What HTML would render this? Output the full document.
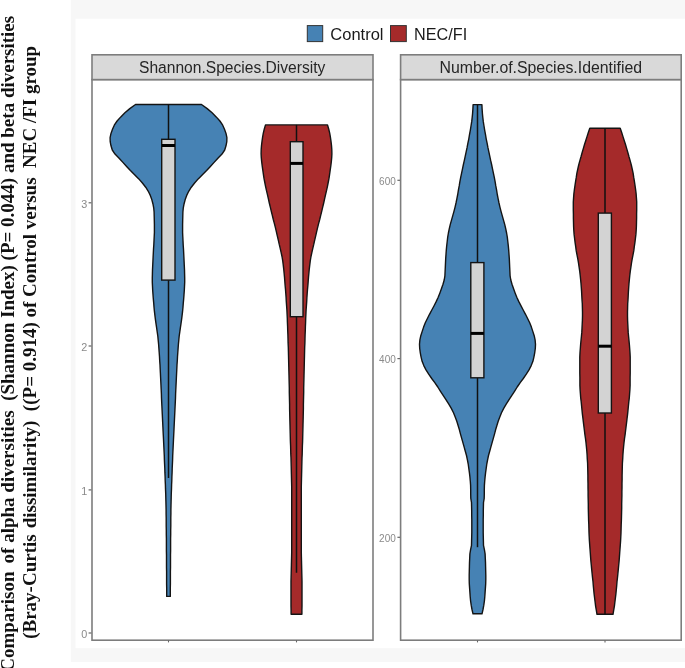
<!DOCTYPE html>
<html><head><meta charset="utf-8"><title>Violin plot</title>
<style>
html,body{margin:0;padding:0;background:#fff;}
body{width:685px;height:668px;position:relative;overflow:hidden;}
</style></head><body>
<svg width="685" height="668" viewBox="0 0 685 668" style="position:absolute;left:0;top:0;filter:blur(0.55px)">
<rect x="70.8" y="0" width="615" height="662" fill="#f7f7f7"/>
<rect x="75.5" y="18.7" width="610" height="629.5" fill="#ffffff"/>
<rect x="92" y="79.6" width="281" height="560.6" fill="#fff" stroke="#7d7d7d" stroke-width="1.6"/>
<rect x="92" y="54.8" width="281" height="24.799999999999997" fill="#d9d9d9" stroke="#7d7d7d" stroke-width="1.6"/>
<rect x="400.6" y="79.6" width="280.6" height="560.6" fill="#fff" stroke="#7d7d7d" stroke-width="1.6"/>
<rect x="400.6" y="54.8" width="280.6" height="24.799999999999997" fill="#d9d9d9" stroke="#7d7d7d" stroke-width="1.6"/>
<path d="M135.5,104.5 L129.8,108.6 L124.9,112.8 L120.8,116.9 L117.1,121.0 L114.3,125.2 L112.5,129.3 L111.0,133.4 L110.1,137.6 L110.2,141.7 L111.0,145.8 L112.3,150.0 L115.0,154.1 L119.1,158.2 L122.9,162.4 L126.6,166.5 L130.4,170.6 L134.6,174.8 L138.8,178.9 L142.4,183.0 L145.7,187.2 L148.3,191.3 L150.3,195.4 L151.8,199.6 L152.9,203.7 L153.7,207.8 L154.1,212.0 L154.2,216.1 L154.3,220.2 L154.4,224.4 L154.4,228.5 L154.4,232.6 L154.2,236.8 L154.0,240.9 L153.8,245.0 L153.5,249.2 L153.3,253.3 L153.1,257.4 L152.9,261.6 L152.7,265.7 L152.5,269.8 L152.4,274.0 L152.3,278.1 L152.3,282.2 L152.5,286.4 L152.7,290.5 L153.0,294.6 L153.3,298.8 L153.7,302.9 L154.0,307.0 L154.4,311.2 L154.9,315.3 L155.4,319.4 L156.0,323.6 L156.6,327.7 L157.2,331.8 L157.8,336.0 L158.2,340.1 L158.6,344.2 L158.9,348.4 L159.2,352.5 L159.5,356.7 L159.7,360.8 L160.0,364.9 L160.2,369.1 L160.4,373.2 L160.6,377.3 L160.8,381.5 L161.0,385.6 L161.2,389.7 L161.4,393.9 L161.5,398.0 L161.7,402.1 L161.9,406.3 L162.1,410.4 L162.3,414.5 L162.5,418.7 L162.7,422.8 L162.9,426.9 L163.1,431.1 L163.3,435.2 L163.5,439.3 L163.7,443.5 L163.9,447.6 L164.1,451.7 L164.3,455.9 L164.4,460.0 L164.6,464.1 L164.8,468.3 L164.9,472.4 L165.1,476.5 L165.2,480.7 L165.4,484.8 L165.5,488.9 L165.7,493.1 L165.8,497.2 L165.9,501.3 L166.0,505.5 L166.1,509.6 L166.1,513.7 L166.2,517.9 L166.2,522.0 L166.2,526.1 L166.3,530.3 L166.3,534.4 L166.4,538.5 L166.4,542.7 L166.4,546.8 L166.4,550.9 L166.5,555.1 L166.5,559.2 L166.5,563.3 L166.5,567.5 L166.6,571.6 L166.6,575.7 L166.6,579.9 L166.6,584.0 L166.7,588.1 L166.7,592.3 L166.7,596.4 L170.3,596.4 L170.3,592.3 L170.3,588.1 L170.4,584.0 L170.4,579.9 L170.4,575.7 L170.4,571.6 L170.5,567.5 L170.5,563.3 L170.5,559.2 L170.5,555.1 L170.6,550.9 L170.6,546.8 L170.6,542.7 L170.6,538.5 L170.7,534.4 L170.7,530.3 L170.8,526.1 L170.8,522.0 L170.8,517.9 L170.9,513.7 L170.9,509.6 L171.0,505.5 L171.1,501.3 L171.2,497.2 L171.3,493.1 L171.5,488.9 L171.6,484.8 L171.8,480.7 L171.9,476.5 L172.1,472.4 L172.2,468.3 L172.4,464.1 L172.6,460.0 L172.7,455.9 L172.9,451.7 L173.1,447.6 L173.3,443.5 L173.5,439.3 L173.7,435.2 L173.9,431.1 L174.1,426.9 L174.3,422.8 L174.5,418.7 L174.7,414.5 L174.9,410.4 L175.1,406.3 L175.3,402.1 L175.5,398.0 L175.6,393.9 L175.8,389.7 L176.0,385.6 L176.2,381.5 L176.4,377.3 L176.6,373.2 L176.8,369.1 L177.0,364.9 L177.3,360.8 L177.5,356.7 L177.8,352.5 L178.1,348.4 L178.4,344.2 L178.8,340.1 L179.2,336.0 L179.8,331.8 L180.4,327.7 L181.0,323.6 L181.6,319.4 L182.1,315.3 L182.6,311.2 L183.0,307.0 L183.3,302.9 L183.7,298.8 L184.0,294.6 L184.3,290.5 L184.5,286.4 L184.7,282.2 L184.7,278.1 L184.6,274.0 L184.5,269.8 L184.3,265.7 L184.1,261.6 L183.9,257.4 L183.7,253.3 L183.5,249.2 L183.2,245.0 L183.0,240.9 L182.8,236.8 L182.6,232.6 L182.6,228.5 L182.6,224.4 L182.7,220.2 L182.8,216.1 L182.9,212.0 L183.3,207.8 L184.1,203.7 L185.2,199.6 L186.7,195.4 L188.7,191.3 L191.3,187.2 L194.6,183.0 L198.2,178.9 L202.4,174.8 L206.6,170.6 L210.4,166.5 L214.1,162.4 L217.9,158.2 L222.0,154.1 L224.7,150.0 L226.0,145.8 L226.8,141.7 L226.9,137.6 L226.0,133.4 L224.5,129.3 L222.7,125.2 L219.9,121.0 L216.2,116.9 L212.1,112.8 L207.2,108.6 L201.5,104.5Z" fill="#4682b4" stroke="#141414" stroke-width="1.4" stroke-linejoin="round"/>
<line x1="168.5" y1="104.5" x2="168.5" y2="139.3" stroke="#111" stroke-width="1.5"/>
<line x1="168.5" y1="280.1" x2="168.5" y2="478" stroke="#111" stroke-width="1.5"/>
<rect x="161.7" y="139.3" width="13.300000000000011" height="140.8" fill="#d3d3d3" stroke="#141414" stroke-width="1.4"/>
<line x1="161.7" y1="145.5" x2="175.0" y2="145.5" stroke="#000" stroke-width="3"/>
<line x1="168.5" y1="640.4" x2="168.5" y2="642.4" stroke="#666" stroke-width="1.1"/>
<path d="M265.5,124.9 L264.3,129.0 L263.3,133.1 L262.6,137.2 L262.0,141.4 L261.5,145.5 L261.2,149.6 L261.1,153.7 L261.3,157.8 L261.7,161.9 L262.2,166.0 L262.8,170.1 L263.4,174.3 L264.0,178.4 L264.8,182.5 L265.6,186.6 L266.5,190.7 L267.5,194.8 L268.4,198.9 L269.3,203.0 L270.3,207.2 L271.3,211.3 L272.3,215.4 L273.3,219.5 L274.4,223.6 L275.4,227.7 L276.4,231.8 L277.3,235.9 L278.3,240.1 L279.2,244.2 L280.2,248.3 L281.1,252.4 L282.0,256.5 L282.7,260.6 L283.2,264.7 L283.7,268.8 L284.1,273.0 L284.5,277.1 L284.8,281.2 L285.1,285.3 L285.5,289.4 L285.8,293.5 L286.1,297.6 L286.3,301.7 L286.6,305.9 L286.9,310.0 L287.1,314.1 L287.3,318.2 L287.4,322.3 L287.6,326.4 L287.7,330.5 L287.9,334.6 L288.0,338.8 L288.1,342.9 L288.3,347.0 L288.4,351.1 L288.5,355.2 L288.6,359.3 L288.7,363.4 L288.8,367.5 L288.9,371.7 L289.0,375.8 L289.1,379.9 L289.2,384.0 L289.3,388.1 L289.3,392.2 L289.4,396.3 L289.5,400.4 L289.6,404.6 L289.6,408.7 L289.7,412.8 L289.8,416.9 L289.9,421.0 L290.0,425.1 L290.1,429.2 L290.2,433.3 L290.3,437.5 L290.4,441.6 L290.6,445.7 L290.7,449.8 L290.8,453.9 L291.0,458.0 L291.1,462.1 L291.2,466.2 L291.3,470.4 L291.4,474.5 L291.5,478.6 L291.6,482.7 L291.7,486.8 L291.7,490.9 L291.7,495.0 L291.7,499.1 L291.7,503.3 L291.7,507.4 L291.7,511.5 L291.7,515.6 L291.7,519.7 L291.7,523.8 L291.7,527.9 L291.7,532.0 L291.7,536.2 L291.7,540.3 L291.7,544.4 L291.7,548.5 L291.7,552.6 L291.6,556.7 L291.5,560.8 L291.4,564.9 L291.3,569.1 L291.2,573.2 L291.1,577.3 L291.0,581.4 L291.0,585.5 L291.0,589.6 L291.0,593.7 L291.0,597.8 L291.0,602.0 L291.0,606.1 L291.1,610.2 L291.1,614.3 L301.9,614.3 L301.9,610.2 L302.0,606.1 L302.0,602.0 L302.0,597.8 L302.0,593.7 L302.0,589.6 L302.0,585.5 L302.0,581.4 L301.9,577.3 L301.8,573.2 L301.7,569.1 L301.6,564.9 L301.5,560.8 L301.4,556.7 L301.3,552.6 L301.3,548.5 L301.3,544.4 L301.3,540.3 L301.3,536.2 L301.3,532.0 L301.3,527.9 L301.3,523.8 L301.3,519.7 L301.3,515.6 L301.3,511.5 L301.3,507.4 L301.3,503.3 L301.3,499.1 L301.3,495.0 L301.3,490.9 L301.3,486.8 L301.4,482.7 L301.5,478.6 L301.6,474.5 L301.7,470.4 L301.8,466.2 L301.9,462.1 L302.0,458.0 L302.2,453.9 L302.3,449.8 L302.4,445.7 L302.6,441.6 L302.7,437.5 L302.8,433.3 L302.9,429.2 L303.0,425.1 L303.1,421.0 L303.2,416.9 L303.3,412.8 L303.4,408.7 L303.4,404.6 L303.5,400.4 L303.6,396.3 L303.7,392.2 L303.7,388.1 L303.8,384.0 L303.9,379.9 L304.0,375.8 L304.1,371.7 L304.2,367.5 L304.3,363.4 L304.4,359.3 L304.5,355.2 L304.6,351.1 L304.7,347.0 L304.9,342.9 L305.0,338.8 L305.1,334.6 L305.3,330.5 L305.4,326.4 L305.6,322.3 L305.7,318.2 L305.9,314.1 L306.1,310.0 L306.4,305.9 L306.7,301.7 L306.9,297.6 L307.2,293.5 L307.5,289.4 L307.9,285.3 L308.2,281.2 L308.5,277.1 L308.9,273.0 L309.3,268.8 L309.8,264.7 L310.3,260.6 L311.0,256.5 L311.9,252.4 L312.8,248.3 L313.8,244.2 L314.7,240.1 L315.7,235.9 L316.6,231.8 L317.6,227.7 L318.6,223.6 L319.7,219.5 L320.7,215.4 L321.7,211.3 L322.7,207.2 L323.7,203.0 L324.6,198.9 L325.5,194.8 L326.5,190.7 L327.4,186.6 L328.2,182.5 L329.0,178.4 L329.6,174.3 L330.2,170.1 L330.8,166.0 L331.3,161.9 L331.7,157.8 L331.9,153.7 L331.8,149.6 L331.5,145.5 L331.0,141.4 L330.4,137.2 L329.7,133.1 L328.7,129.0 L327.5,124.9Z" fill="#a52a2a" stroke="#141414" stroke-width="1.4" stroke-linejoin="round"/>
<line x1="296.5" y1="124.9" x2="296.5" y2="141.7" stroke="#111" stroke-width="1.5"/>
<line x1="296.5" y1="316.7" x2="296.5" y2="572.8" stroke="#111" stroke-width="1.5"/>
<rect x="290.3" y="141.7" width="12.699999999999989" height="175.0" fill="#d3d3d3" stroke="#141414" stroke-width="1.4"/>
<line x1="290.3" y1="163.4" x2="303" y2="163.4" stroke="#000" stroke-width="3"/>
<line x1="296.5" y1="640.4" x2="296.5" y2="642.4" stroke="#666" stroke-width="1.1"/>
<path d="M473.1,104.6 L472.9,108.9 L472.6,113.2 L472.2,117.4 L471.7,121.7 L471.0,126.0 L470.3,130.3 L469.5,134.6 L468.8,138.8 L467.9,143.1 L467.1,147.4 L466.2,151.7 L465.3,155.9 L464.4,160.2 L463.4,164.5 L462.5,168.8 L461.6,173.1 L460.7,177.3 L459.9,181.6 L459.2,185.9 L458.4,190.2 L457.7,194.5 L456.9,198.7 L456.0,203.0 L455.0,207.3 L453.9,211.6 L452.7,215.9 L451.5,220.1 L450.3,224.4 L449.3,228.7 L448.4,233.0 L447.7,237.2 L447.2,241.5 L446.7,245.8 L446.3,250.1 L446.0,254.4 L445.7,258.6 L445.5,262.9 L445.3,267.2 L445.1,271.5 L444.9,275.8 L444.2,280.0 L443.0,284.3 L441.5,288.6 L439.9,292.9 L438.2,297.2 L436.3,301.4 L434.1,305.7 L431.8,310.0 L429.5,314.3 L427.4,318.5 L425.3,322.8 L423.6,327.1 L422.2,331.4 L420.8,335.7 L419.9,339.9 L419.5,344.2 L419.7,348.5 L420.3,352.8 L421.1,357.1 L422.1,361.3 L423.8,365.6 L426.0,369.9 L428.7,374.2 L431.7,378.5 L434.8,382.7 L437.8,387.0 L440.5,391.3 L443.3,395.6 L446.1,399.9 L448.8,404.1 L451.3,408.4 L453.5,412.7 L455.2,417.0 L456.8,421.2 L458.1,425.5 L459.4,429.8 L460.5,434.1 L461.7,438.4 L462.9,442.6 L464.1,446.9 L465.3,451.2 L466.5,455.5 L467.4,459.8 L468.2,464.0 L468.8,468.3 L469.4,472.6 L469.9,476.9 L470.3,481.2 L470.6,485.4 L470.7,489.7 L470.7,494.0 L470.8,498.3 L471.5,502.5 L471.6,506.8 L471.7,511.1 L471.7,515.4 L471.8,519.7 L471.8,523.9 L471.8,528.2 L471.8,532.5 L471.7,536.8 L471.6,541.1 L471.5,545.3 L470.6,549.6 L469.9,553.9 L469.7,558.2 L469.5,562.5 L469.4,566.7 L469.3,571.0 L469.2,575.3 L469.2,579.6 L469.3,583.8 L469.6,588.1 L469.9,592.4 L470.2,596.7 L470.6,601.0 L471.2,605.2 L472.0,609.5 L473.0,613.8 L482.0,613.8 L483.0,609.5 L483.8,605.2 L484.4,601.0 L484.8,596.7 L485.1,592.4 L485.4,588.1 L485.7,583.8 L485.8,579.6 L485.8,575.3 L485.7,571.0 L485.6,566.7 L485.5,562.5 L485.3,558.2 L485.1,553.9 L484.4,549.6 L483.5,545.3 L483.4,541.1 L483.3,536.8 L483.2,532.5 L483.2,528.2 L483.2,523.9 L483.2,519.7 L483.3,515.4 L483.3,511.1 L483.4,506.8 L483.5,502.5 L484.2,498.3 L484.3,494.0 L484.3,489.7 L484.4,485.4 L484.7,481.2 L485.1,476.9 L485.6,472.6 L486.2,468.3 L486.8,464.0 L487.6,459.8 L488.5,455.5 L489.7,451.2 L490.9,446.9 L492.1,442.6 L493.3,438.4 L494.5,434.1 L495.6,429.8 L496.9,425.5 L498.2,421.2 L499.8,417.0 L501.5,412.7 L503.7,408.4 L506.2,404.1 L508.9,399.9 L511.7,395.6 L514.5,391.3 L517.2,387.0 L520.2,382.7 L523.3,378.5 L526.3,374.2 L529.0,369.9 L531.2,365.6 L532.9,361.3 L533.9,357.1 L534.7,352.8 L535.3,348.5 L535.5,344.2 L535.1,339.9 L534.2,335.7 L532.8,331.4 L531.4,327.1 L529.7,322.8 L527.6,318.5 L525.5,314.3 L523.2,310.0 L520.9,305.7 L518.7,301.4 L516.8,297.2 L515.1,292.9 L513.5,288.6 L512.0,284.3 L510.8,280.0 L510.1,275.8 L509.9,271.5 L509.7,267.2 L509.5,262.9 L509.3,258.6 L509.0,254.4 L508.7,250.1 L508.3,245.8 L507.8,241.5 L507.3,237.2 L506.6,233.0 L505.7,228.7 L504.7,224.4 L503.5,220.1 L502.3,215.9 L501.1,211.6 L500.0,207.3 L499.0,203.0 L498.1,198.7 L497.3,194.5 L496.6,190.2 L495.8,185.9 L495.1,181.6 L494.3,177.3 L493.4,173.1 L492.5,168.8 L491.6,164.5 L490.6,160.2 L489.7,155.9 L488.8,151.7 L487.9,147.4 L487.1,143.1 L486.2,138.8 L485.5,134.6 L484.7,130.3 L484.0,126.0 L483.3,121.7 L482.8,117.4 L482.4,113.2 L482.1,108.9 L481.9,104.6Z" fill="#4682b4" stroke="#141414" stroke-width="1.4" stroke-linejoin="round"/>
<line x1="477.5" y1="104.6" x2="477.5" y2="262.6" stroke="#111" stroke-width="1.5"/>
<line x1="477.5" y1="377.8" x2="477.5" y2="547.2" stroke="#111" stroke-width="1.5"/>
<rect x="470.8" y="262.6" width="13.099999999999966" height="115.19999999999999" fill="#d3d3d3" stroke="#141414" stroke-width="1.4"/>
<line x1="470.8" y1="333.4" x2="483.9" y2="333.4" stroke="#000" stroke-width="3"/>
<line x1="477.5" y1="640.4" x2="477.5" y2="642.4" stroke="#666" stroke-width="1.1"/>
<path d="M589.8,128.2 L588.4,132.3 L587.1,136.4 L585.8,140.5 L584.5,144.5 L583.3,148.6 L582.1,152.7 L581.0,156.8 L579.8,160.9 L578.7,165.0 L577.8,169.0 L576.9,173.1 L576.3,177.2 L575.6,181.3 L575.0,185.4 L574.4,189.5 L573.9,193.6 L573.6,197.6 L573.3,201.7 L573.3,205.8 L573.3,209.9 L573.4,214.0 L573.4,218.1 L573.5,222.2 L573.6,226.2 L573.8,230.3 L574.1,234.4 L574.6,238.5 L575.1,242.6 L575.7,246.7 L576.2,250.7 L577.0,254.8 L577.8,258.9 L578.5,263.0 L579.1,267.1 L579.7,271.2 L580.2,275.3 L580.6,279.3 L581.0,283.4 L581.3,287.5 L581.6,291.6 L581.8,295.7 L582.0,299.8 L582.3,303.8 L582.4,307.9 L582.5,312.0 L582.5,316.1 L582.4,320.2 L582.2,324.3 L582.0,328.4 L581.8,332.4 L581.4,336.5 L581.0,340.6 L580.6,344.7 L580.3,348.8 L580.0,352.9 L579.8,357.0 L579.8,361.0 L579.8,365.1 L579.8,369.2 L579.8,373.3 L579.9,377.4 L579.9,381.5 L579.9,385.5 L580.1,389.6 L580.4,393.7 L580.7,397.8 L581.2,401.9 L581.6,406.0 L582.0,410.1 L582.4,414.1 L582.9,418.2 L583.4,422.3 L583.9,426.4 L584.4,430.5 L584.9,434.6 L585.5,438.7 L586.0,442.7 L586.4,446.8 L586.8,450.9 L587.1,455.0 L587.3,459.1 L587.6,463.2 L587.7,467.2 L587.8,471.3 L587.9,475.4 L587.9,479.5 L588.0,483.6 L588.0,487.7 L588.1,491.8 L588.1,495.8 L588.2,499.9 L588.3,504.0 L588.3,508.1 L588.4,512.2 L588.5,516.3 L588.6,520.3 L588.8,524.4 L588.9,528.5 L589.0,532.6 L589.2,536.7 L589.4,540.8 L589.7,544.9 L590.0,548.9 L590.3,553.0 L590.6,557.1 L590.9,561.2 L591.3,565.3 L591.7,569.4 L592.1,573.5 L592.5,577.5 L593.0,581.6 L593.3,585.7 L593.7,589.8 L594.1,593.9 L594.6,598.0 L595.1,602.0 L595.6,606.1 L596.3,610.2 L597.0,614.3 L613.0,614.3 L613.7,610.2 L614.4,606.1 L614.9,602.0 L615.4,598.0 L615.9,593.9 L616.3,589.8 L616.7,585.7 L617.0,581.6 L617.5,577.5 L617.9,573.5 L618.3,569.4 L618.7,565.3 L619.1,561.2 L619.4,557.1 L619.7,553.0 L620.0,548.9 L620.3,544.9 L620.6,540.8 L620.8,536.7 L621.0,532.6 L621.1,528.5 L621.2,524.4 L621.4,520.3 L621.5,516.3 L621.6,512.2 L621.7,508.1 L621.7,504.0 L621.8,499.9 L621.9,495.8 L621.9,491.8 L622.0,487.7 L622.0,483.6 L622.1,479.5 L622.1,475.4 L622.2,471.3 L622.3,467.2 L622.4,463.2 L622.7,459.1 L622.9,455.0 L623.2,450.9 L623.6,446.8 L624.0,442.7 L624.5,438.7 L625.1,434.6 L625.6,430.5 L626.1,426.4 L626.6,422.3 L627.1,418.2 L627.6,414.1 L628.0,410.1 L628.4,406.0 L628.8,401.9 L629.3,397.8 L629.6,393.7 L629.9,389.6 L630.1,385.5 L630.1,381.5 L630.1,377.4 L630.2,373.3 L630.2,369.2 L630.2,365.1 L630.2,361.0 L630.2,357.0 L630.0,352.9 L629.7,348.8 L629.4,344.7 L629.0,340.6 L628.6,336.5 L628.2,332.4 L628.0,328.4 L627.8,324.3 L627.6,320.2 L627.5,316.1 L627.5,312.0 L627.6,307.9 L627.7,303.8 L628.0,299.8 L628.2,295.7 L628.4,291.6 L628.7,287.5 L629.0,283.4 L629.4,279.3 L629.8,275.3 L630.3,271.2 L630.9,267.1 L631.5,263.0 L632.2,258.9 L633.0,254.8 L633.8,250.7 L634.3,246.7 L634.9,242.6 L635.4,238.5 L635.9,234.4 L636.2,230.3 L636.4,226.2 L636.5,222.2 L636.6,218.1 L636.6,214.0 L636.7,209.9 L636.7,205.8 L636.7,201.7 L636.4,197.6 L636.1,193.6 L635.6,189.5 L635.0,185.4 L634.4,181.3 L633.7,177.2 L633.1,173.1 L632.2,169.0 L631.3,165.0 L630.2,160.9 L629.0,156.8 L627.9,152.7 L626.7,148.6 L625.5,144.5 L624.2,140.5 L622.9,136.4 L621.6,132.3 L620.2,128.2Z" fill="#a52a2a" stroke="#141414" stroke-width="1.4" stroke-linejoin="round"/>
<line x1="605" y1="128.2" x2="605" y2="213.1" stroke="#111" stroke-width="1.5"/>
<line x1="605" y1="413" x2="605" y2="614.3" stroke="#111" stroke-width="1.5"/>
<rect x="598.3" y="213.1" width="13.100000000000023" height="199.9" fill="#d3d3d3" stroke="#141414" stroke-width="1.4"/>
<line x1="598.3" y1="346.2" x2="611.4" y2="346.2" stroke="#000" stroke-width="3"/>
<line x1="605" y1="640.4" x2="605" y2="642.4" stroke="#666" stroke-width="1.1"/>
<line x1="88.6" y1="202.8" x2="91.4" y2="202.8" stroke="#666" stroke-width="1.2"/>
<text x="87.3" y="207.5" font-size="10.8" text-anchor="end" font-family="Liberation Sans, Arial, sans-serif" fill="#8a8a8a">3</text>
<line x1="88.6" y1="346" x2="91.4" y2="346" stroke="#666" stroke-width="1.2"/>
<text x="87.3" y="350.7" font-size="10.8" text-anchor="end" font-family="Liberation Sans, Arial, sans-serif" fill="#8a8a8a">2</text>
<line x1="88.6" y1="489.9" x2="91.4" y2="489.9" stroke="#666" stroke-width="1.2"/>
<text x="87.3" y="494.59999999999997" font-size="10.8" text-anchor="end" font-family="Liberation Sans, Arial, sans-serif" fill="#8a8a8a">1</text>
<line x1="88.6" y1="633" x2="91.4" y2="633" stroke="#666" stroke-width="1.2"/>
<text x="87.3" y="637.7" font-size="10.8" text-anchor="end" font-family="Liberation Sans, Arial, sans-serif" fill="#8a8a8a">0</text>
<line x1="397.4" y1="180.3" x2="400" y2="180.3" stroke="#666" stroke-width="1.2"/>
<text x="395.8" y="184.8" font-size="10" text-anchor="end" font-family="Liberation Sans, Arial, sans-serif" fill="#8a8a8a">600</text>
<line x1="397.4" y1="358.6" x2="400" y2="358.6" stroke="#666" stroke-width="1.2"/>
<text x="395.8" y="363.1" font-size="10" text-anchor="end" font-family="Liberation Sans, Arial, sans-serif" fill="#8a8a8a">400</text>
<line x1="397.4" y1="537.3" x2="400" y2="537.3" stroke="#666" stroke-width="1.2"/>
<text x="395.8" y="541.8" font-size="10" text-anchor="end" font-family="Liberation Sans, Arial, sans-serif" fill="#8a8a8a">200</text>
<text x="232.2" y="73.4" font-size="15.6" text-anchor="middle" font-family="Liberation Sans, Arial, sans-serif" fill="#262626">Shannon.Species.Diversity</text>
<text x="540.8" y="73.4" font-size="15.85" text-anchor="middle" font-family="Liberation Sans, Arial, sans-serif" fill="#262626">Number.of.Species.Identified</text>
<rect x="307.3" y="25.6" width="15.4" height="16" fill="#4682b4" stroke="#333" stroke-width="1"/>
<rect x="390.5" y="25.6" width="15.8" height="16" fill="#a52a2a" stroke="#333" stroke-width="1"/>
<text x="330.3" y="39.8" font-size="16.5" font-family="Liberation Sans, Arial, sans-serif" fill="#1a1a1a">Control</text>
<text x="414.1" y="39.8" font-size="16.2" font-family="Liberation Sans, Arial, sans-serif" fill="#1a1a1a">NEC/FI</text>
<text transform="translate(14.2,15.8) rotate(-90)" text-anchor="end" font-family="Liberation Serif, Times New Roman, serif" font-weight="bold" fill="#111" font-size="19" xml:space="preserve">Comparison <tspan dx="3.3">of</tspan> alpha diversities  (Shannon Index) (P= 0.044) and beta diversities</text>
<text transform="translate(36.2,45.8) rotate(-90)" text-anchor="end" font-family="Liberation Serif, Times New Roman, serif" font-weight="bold" fill="#111" font-size="19" xml:space="preserve">(Bray-Curtis <tspan dx="1.3">dissimilarity)</tspan>  ((P= 0.914) of Control versus  NEC /FI group</text>
</svg>
</body></html>
